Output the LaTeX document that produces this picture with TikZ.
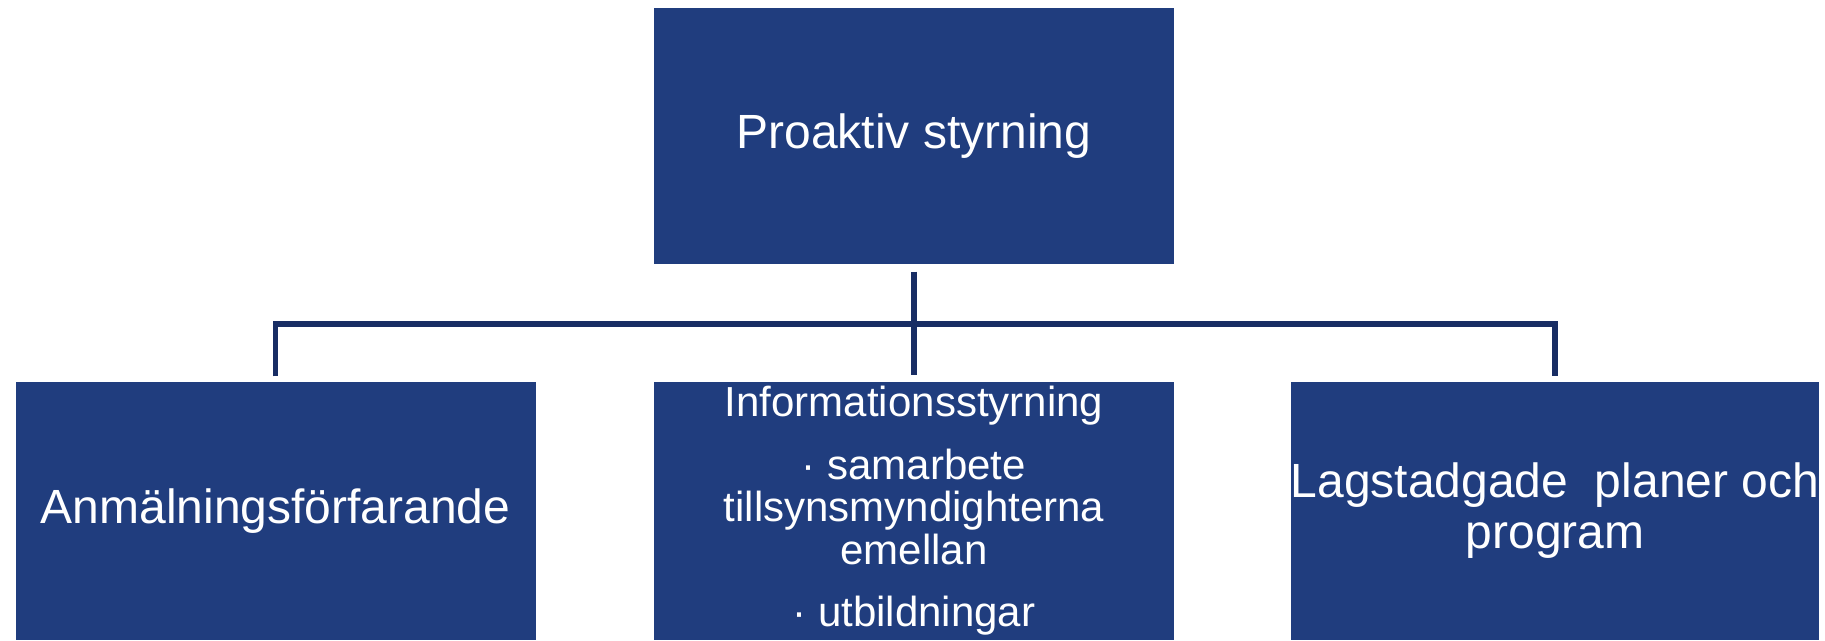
\documentclass[tikz,border=0pt]{standalone}
\usepackage{fontspec}
\setmainfont{Liberation Sans}
\definecolor{boxblue}{RGB}{32,61,126}
\definecolor{lineblue}{RGB}{24,45,100}
\tikzset{
	orgbox/.style={fill=boxblue, text=white, minimum width=5.2cm, minimum height=2.58cm,
		inner sep=0pt, align=center, font=\fontsize{13.66}{14.5}\selectfont},
	conn/.style={draw=lineblue, line width=1.7pt}
}
\begin{document}
\begin{tikzpicture}
	\useasboundingbox (0,0) rectangle (18.25,-6.40);
	\node[orgbox, minimum height=2.56cm] (proaktiv) at (9.14,-1.36) {Proaktiv styrning};
	\node[orgbox] (anmalan) at (2.755,-5.11) {Anmälningsförfarande};
	\node[orgbox, font=\fontsize{11.95}{12.1}\selectfont, text depth=0.09cm] (info) at (9.14,-5.11) {Informationsstyrning\\[5.7pt] · samarbete\\ tillsynsmyndighterna\\ emellan\\[5.7pt] · utbildningar};
	\node[orgbox] (lag) at (15.55,-5.11) {Lagstadgade\ \ planer och\\ program};
	\coordinate (hub) at (9.14,-3.24);
	\draw[conn] ([yshift=-0.07cm]proaktiv.south) -- ([yshift=0.06cm]info.north);
	\draw[conn] ([yshift=0.05cm]anmalan.north) |- (hub) -| ([yshift=0.05cm]lag.north);
\end{tikzpicture}
\end{document}
